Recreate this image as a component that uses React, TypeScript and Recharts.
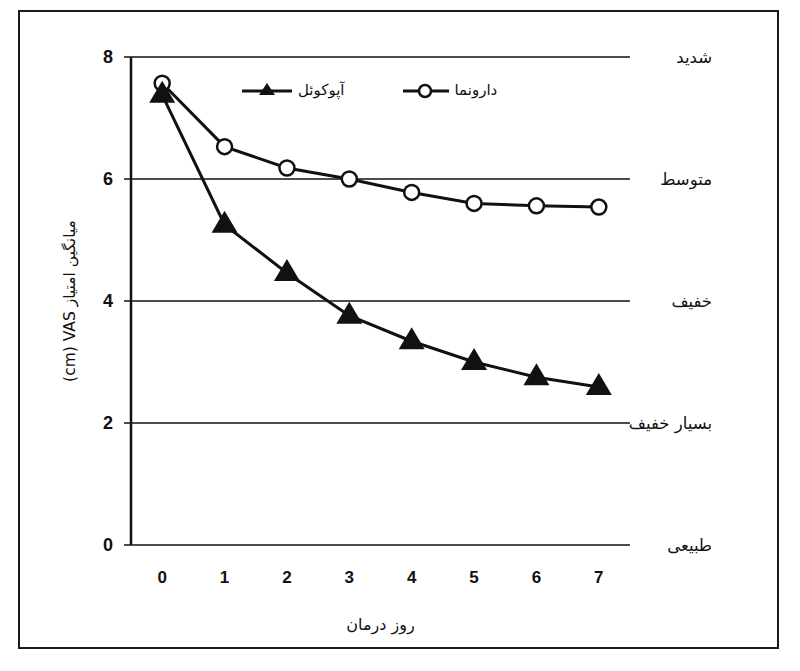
import React from "react";
import { LineChart, Line, XAxis, YAxis, CartesianGrid, Label } from "recharts";

const days = [0, 1, 2, 3, 4, 5, 6, 7];
const apoquelValues = [7.38, 5.25, 4.46, 3.76, 3.34, 3.0, 2.75, 2.59];
const placeboValues = [7.57, 6.53, 6.18, 6.0, 5.78, 5.6, 5.56, 5.54];
const yTicks = [0, 2, 4, 6, 8];
const severityLabels = ["طبیعی", "بسیار خفیف", "خفیف", "متوسط", "شدید"];
const dayTickBounds = [-0.5, 0.5, 1.5, 2.5, 3.5, 4.5, 5.5, 6.5, 7.5];
const seriesNames = { apoquel: "آپوکوئل", placebo: "دارونما" };
const xTitle = "روز درمان";
const yTitle = "(cm) VAS میانگین امتیاز";

const data = days.map((d, i) => ({ day: d, apoquel: apoquelValues[i], placebo: placeboValues[i] }));

const INK = "#111";
const PERSIAN_FONT = "'DejaVu Sans', sans-serif";
const NUM_FONT = "'Liberation Sans', Arial, sans-serif";

const TriangleDot = (props: any) => {
  const { cx, cy } = props;
  if (cx == null || cy == null) return null;
  return <polygon points={`${cx},${cy - 14} ${cx - 13},${cy + 8} ${cx + 13},${cy + 8}`} fill={INK} />;
};

const CircleDot = (props: any) => {
  const { cx, cy } = props;
  if (cx == null || cy == null) return null;
  return <circle cx={cx} cy={cy} r={7.5} fill="#fff" stroke={INK} strokeWidth={2.5} />;
};

const renderSeverityTick = (props: any) => {
  const { x, y, payload } = props;
  const idx = yTicks.indexOf(Number(payload.value));
  return (
    <text key={`sev-${payload.value}`} x={x + 82} y={y} textAnchor="end" dominantBaseline="central" fontFamily={PERSIAN_FONT} fontSize={16.5} fill={INK}>
      {severityLabels[idx]}
    </text>
  );
};

const renderYNumTick = (props: any) => {
  const { x, y, payload } = props;
  return (
    <text key={`y-${payload.value}`} x={x} y={y} textAnchor="end" dominantBaseline="central" fontFamily={NUM_FONT} fontWeight={700} fontSize={18} fill={INK}>
      {payload.value}
    </text>
  );
};

const renderXNumTick = (props: any) => {
  const { x, y, payload } = props;
  return (
    <text key={`x-${payload.value}`} x={x} y={y} textAnchor="middle" dominantBaseline="central" fontFamily={NUM_FONT} fontWeight={700} fontSize={17} fill={INK}>
      {payload.value}
    </text>
  );
};

const LegendOverlay = () => (
  <div style={{ position: "absolute", left: 240, top: 80, display: "flex", gap: 56, alignItems: "center", fontFamily: PERSIAN_FONT, fontSize: 15, color: INK }}>
    <div style={{ display: "flex", alignItems: "center", gap: 4 }}>
      <svg width={54} height={20}>
        <line x1={2} y1={11} x2={52} y2={11} stroke={INK} strokeWidth={3} />
        <polygon points="27,3 19,15 35,15" fill={INK} />
      </svg>
      <span>{seriesNames.apoquel}</span>
    </div>
    <div style={{ display: "flex", alignItems: "center", gap: 4 }}>
      <svg width={50} height={20}>
        <line x1={2} y1={11} x2={48} y2={11} stroke={INK} strokeWidth={3} />
        <circle cx={24} cy={11} r={6} fill="#fff" stroke={INK} strokeWidth={2.5} />
      </svg>
      <span>{seriesNames.placebo}</span>
    </div>
  </div>
);

export default function App() {
  return (
    <div style={{ position: "absolute", left: 0, top: 0, width: 800, height: 671, background: "#fff" }}>
      <div style={{ position: "absolute", left: 18, top: 10, width: 757, height: 635, border: "2.5px solid #1a1a1a" }} />
      <LineChart
        width={800}
        height={671}
        data={data}
        margin={{ top: 57, right: 0, bottom: 36, left: 20 }}
        style={{ position: "absolute", left: 0, top: 0 }}
      >
        <CartesianGrid horizontal vertical={false} stroke={INK} strokeWidth={1.5} strokeOpacity={1} yAxisId="l" />
        <XAxis
          xAxisId="marks"
          dataKey="day"
          type="number"
          domain={[-0.5, 7.5]}
          ticks={dayTickBounds}
          height={0}
          tick={false}
          tickSize={7}
          axisLine={{ stroke: INK, strokeWidth: 2.5 }}
          tickLine={{ stroke: INK, strokeWidth: 2 }}
          interval={0}
        />
        <XAxis
          xAxisId="lab"
          dataKey="day"
          type="number"
          domain={[-0.5, 7.5]}
          ticks={days}
          height={90}
          axisLine={false}
          tickLine={false}
          tickSize={0}
          tickMargin={32}
          interval={0}
          tick={renderXNumTick}
        >
          <Label value={xTitle} position="insideBottom" offset={5} style={{ fontFamily: PERSIAN_FONT, fontSize: 16, fill: INK }} />
        </XAxis>
        <YAxis
          yAxisId="l"
          domain={[0, 8]}
          ticks={yTicks}
          width={111}
          tickSize={7}
          tickMargin={11}
          axisLine={{ stroke: INK, strokeWidth: 2.5 }}
          tickLine={{ stroke: INK, strokeWidth: 1.5 }}
          tick={renderYNumTick}
          interval={0}
        >
          <Label value={yTitle} angle={-90} position="center" dx={-6} style={{ fontFamily: PERSIAN_FONT, fontSize: 15.5, fill: INK }} />
        </YAxis>
        <YAxis
          yAxisId="r"
          orientation="right"
          domain={[0, 8]}
          allowDataOverflow
          ticks={yTicks}
          width={170}
          tickSize={0}
          tickMargin={0}
          axisLine={false}
          tickLine={false}
          tick={renderSeverityTick}
          interval={0}
        />
        <Line
          xAxisId="lab"
          yAxisId="r"
          type="linear"
          dataKey="placebo"
          stroke="none"
          dot={false}
          activeDot={false}
          legendType="none"
          isAnimationActive={false}
        />
        <Line
          xAxisId="lab"
          yAxisId="l"
          type="linear"
          dataKey="placebo"
          name={seriesNames.placebo}
          stroke={INK}
          strokeWidth={3}
          dot={<CircleDot />}
          activeDot={false}
          isAnimationActive={false}
        />
        <Line
          xAxisId="lab"
          yAxisId="l"
          type="linear"
          dataKey="apoquel"
          name={seriesNames.apoquel}
          stroke={INK}
          strokeWidth={3}
          dot={<TriangleDot />}
          activeDot={false}
          isAnimationActive={false}
        />
      </LineChart>
      <LegendOverlay />
    </div>
  );
}
